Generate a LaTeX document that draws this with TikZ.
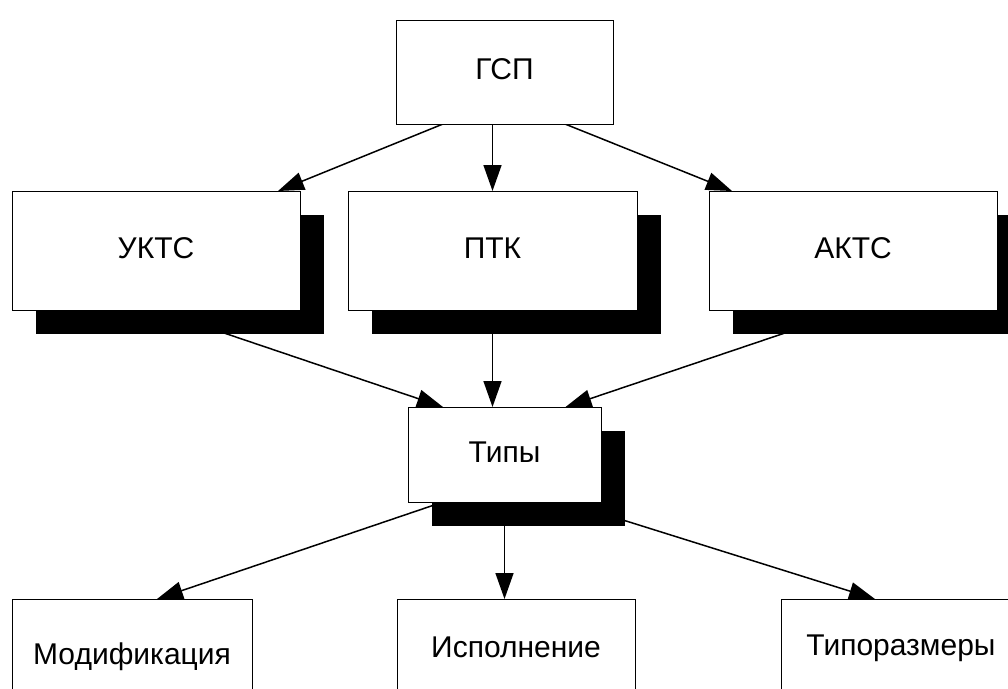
\documentclass[tikz,border=0pt]{standalone}
\usepackage{fontspec}
\setmainfont{Liberation Sans}
\usetikzlibrary{arrows.meta,shadows,backgrounds}

\tikzset{
  block/.style={draw, fill=white, line width=1pt, inner sep=0pt, outer sep=0pt,
    text height=21.5pt, text depth=6pt, font=\fontsize{30}{36}\selectfont},
  shadowed/.style={block, drop shadow={shadow xshift=24pt, shadow yshift=-24pt,
    fill=black, opacity=1}},
  link/.style={line width=1.5pt, -{Triangle[length=26pt,width=18pt]}}
}

\begin{document}
\begin{tikzpicture}[x=1pt,y=-1pt]
        \useasboundingbox (0,0) rectangle (1008,688);
        \clip (0,0) rectangle (1008,688);

        % Top level
        \node[block, minimum width=217pt, minimum height=104pt] (gsp) at (504.5,72) {ГСП};

        % Second level
        \node[shadowed, minimum width=288pt, minimum height=119pt] (ukts) at (156,250.5) {УКТС};
        \node[shadowed, minimum width=289pt, minimum height=119pt] (ptk) at (492.5,250.5) {ПТК};
        \node[shadowed, minimum width=288pt, minimum height=119pt] (akts) at (853,250.5) {АКТС};

        % Types
        \node[shadowed, minimum width=193pt, minimum height=95pt] (tipy) at (504.5,454.5) {Типы};

        % Bottom level
        \node[block, minimum width=240pt, minimum height=116pt] (mod) at (132,657) {Модификация};
        \node[block, minimum width=238pt, minimum height=102pt] (isp) at (516,650) {Исполнение};
        \node[block, minimum width=240pt, minimum height=98pt] (tipr) at (901,648) {Типоразмеры};

        % Links
        \begin{scope}[on background layer]
            \draw[link] ([xshift=-61.5pt]gsp.south) -- ([xshift=-22pt]ukts.north east);
            \draw[link] (ptk.north |- gsp.south) -- (ptk.north);
            \draw[link] ([xshift=60.5pt]gsp.south) -- ([xshift=23pt]akts.north west);

            \draw[link] (ukts.south) -- ([xshift=-61.5pt]tipy.north);
            \draw[link] (ptk.south) -- (ptk.south |- tipy.north);
            \draw[link] (akts.south) -- ([xshift=61pt]tipy.north);

            \draw[link] ([xshift=-61.5pt]tipy.south) -- ([xshift=25pt]mod.north);
            \draw[link] (tipy.south) -- (tipy.south |- isp.north);
            \draw[link] ([xshift=61pt]tipy.south) -- ([xshift=94pt]tipr.north west);
        \end{scope}
    \end{tikzpicture}
\end{document}
